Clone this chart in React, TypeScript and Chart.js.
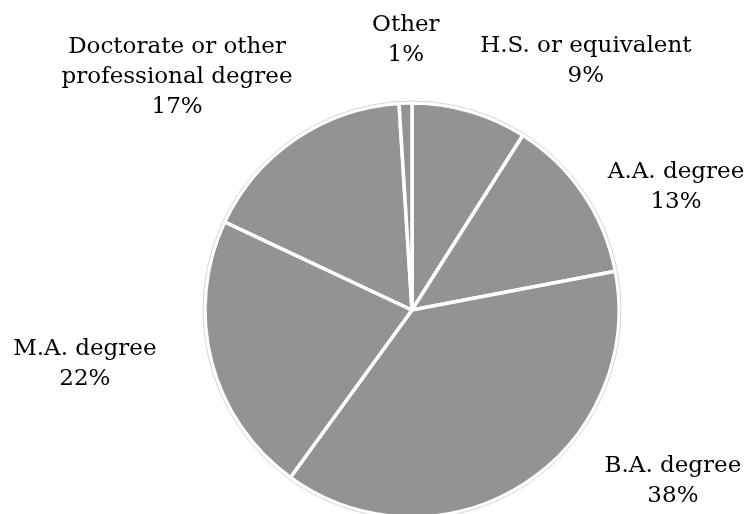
import React, { useEffect, useRef } from "react";
import { Chart, registerables } from "chart.js";

Chart.register(...registerables);

// Data
const categories = [
  "H.S. or equivalent",
  "A.A. degree",
  "B.A. degree",
  "M.A. degree",
  "Doctorate or other professional degree",
  "Other",
];
const shares = [9, 13, 38, 22, 17, 1];
// How each category name is broken into lines for its label
const labelLines = [
  ["H.S. or equivalent"],
  ["A.A. degree"],
  ["B.A. degree"],
  ["M.A. degree"],
  ["Doctorate or other", "professional degree"],
  ["Other"],
];

// Label placement relative to each slice (angle shift from mid-angle, distance in radii)
const labelShiftDeg = [18.5, 8.8, -24.6, 5.4, -10.8, 0.5];
const labelDistance = [1.475, 1.412, 1.503, 1.6, 1.605, 1.314];

const FONT = "23px 'DejaVu Serif', serif";
const LINE_H = 30;

const labelPlugin = {
  id: "pieLabels",
  afterDatasetsDraw(chart: any) {
    const meta = chart.getDatasetMeta(0);
    if (!meta || !meta.data.length) return;
    const ctx = chart.ctx;
    const first = meta.data[0].getProps(["x", "y", "outerRadius"], true);
    const cx = first.x;
    const cy = first.y;
    const r = first.outerRadius;
    ctx.save();
    // thin outline around the pie
    ctx.beginPath();
    ctx.arc(cx, cy, r + 2, 0, Math.PI * 2);
    ctx.strokeStyle = "#d6d6d6";
    ctx.lineWidth = 1;
    ctx.stroke();

    ctx.font = FONT;
    ctx.fillStyle = "#000000";
    ctx.textAlign = "center";
    ctx.textBaseline = "alphabetic";
    meta.data.forEach((arc: any, i: number) => {
      const p = arc.getProps(["startAngle", "endAngle"], true);
      const mid = (p.startAngle + p.endAngle) / 2 + (labelShiftDeg[i] * Math.PI) / 180;
      const d = r * labelDistance[i];
      const lx = cx + d * Math.cos(mid);
      const ly = cy + d * Math.sin(mid);
      const lines = [...labelLines[i], `${shares[i]}%`];
      const n = lines.length;
      lines.forEach((t, j) => {
        ctx.fillText(t, lx, ly + (j - (n - 1) / 2) * LINE_H + 8);
      });
    });
    ctx.restore();
  },
};

export default function App() {
  const ref = useRef<HTMLCanvasElement | null>(null);
  useEffect(() => {
    if (!ref.current) return;
    const chart = new Chart(ref.current, {
      type: "pie",
      data: {
        labels: categories,
        datasets: [
          {
            data: shares,
            backgroundColor: "#939393",
            borderColor: "#ffffff",
            borderWidth: 3.5,
            radius: 207,
            clip: false as any,
          },
        ],
      },
      options: {
        responsive: false,
        animation: false,
        devicePixelRatio: 1,
        layout: { padding: { left: 75, right: 0, top: 106, bottom: 0 } },
        plugins: {
          legend: { display: false },
          tooltip: { enabled: false },
        },
      },
      plugins: [labelPlugin],
    });
    return () => chart.destroy();
  }, []);
  return (
    <div style={{ position: "fixed", left: 0, top: 0, width: 749, height: 514, background: "#fff" }}>
      <canvas ref={ref} width={749} height={514} style={{ display: "block" }} />
    </div>
  );
}
